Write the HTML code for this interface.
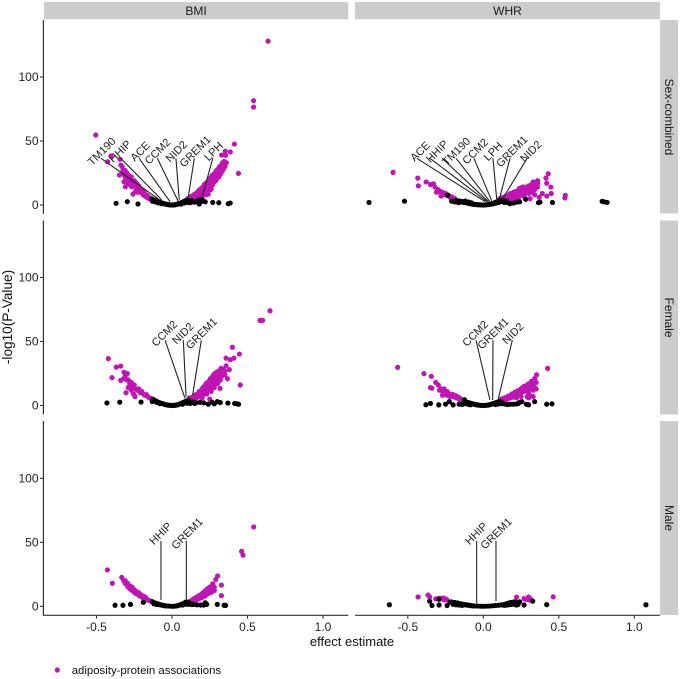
<!DOCTYPE html>
<html lang="en">
<head>
<meta charset="utf-8">
<title>Adiposity-protein associations volcano plots</title>
<style>
html,body{margin:0;padding:0;background:#fff;}
svg{display:block;font-family:"Liberation Sans",Arial,sans-serif;}
</style>
</head>
<body>
<svg id="chart" xmlns="http://www.w3.org/2000/svg" width="680" height="679" viewBox="0 0 680 679">
  <rect x="0" y="0" width="680" height="679" fill="#fff"/>
  <rect x="44" y="2" width="304.3" height="17.3" fill="#ccc"/>
  <rect x="355" y="2" width="305" height="17.3" fill="#ccc"/>
  <text x="196" y="15.2" font-size="12" text-anchor="middle" fill="#1a1a1a">BMI</text>
  <text x="507.5" y="15.2" font-size="12" text-anchor="middle" fill="#1a1a1a">WHR</text>
  <rect x="660" y="20" width="18" height="193.5" fill="#ccc"/>
  <rect x="660" y="220.5" width="18" height="194" fill="#ccc"/>
  <rect x="660" y="421" width="18" height="194" fill="#ccc"/>
  <text transform="translate(665,117) rotate(90)" font-size="12" text-anchor="middle" fill="#1a1a1a">Sex-combined</text>
  <text transform="translate(665,317.5) rotate(90)" font-size="12" text-anchor="middle" fill="#1a1a1a">Female</text>
  <text transform="translate(665,518) rotate(90)" font-size="12" text-anchor="middle" fill="#1a1a1a">Male</text>
  <text transform="translate(12,317) rotate(-90)" font-size="13.6" text-anchor="middle" fill="#111">-log10(P-Value)</text>
  <text x="352" y="646" font-size="13" text-anchor="middle" fill="#111">effect estimate</text>
  <circle cx="57.3" cy="670" r="2.6" fill="#c014b4"/>
  <text x="71.7" y="674" font-size="11.4" fill="#111">adiposity-protein associations</text>
  <g id="plot"></g>
</svg>
<script>
// Tick labels
const xTicks = [-0.5, 0.0, 0.5, 1.0];
const yTicks = [0, 50, 100];

// Magenta = significant associations, black = non-significant; [effect, -log10 P]
const bmiSexSig = [[.636,128],[.54,81.5],[.54,76.5],[-.505,54.7],[.413,47.6],[.44,24.7],[.386,41.4],[.353,42],[.329,39],[.355,38.8],
[-.426,33.8],[-.404,38.3],[-.344,35.7],[-.338,31.2],[-.33,30],[-.349,23.4],[-.318,18.2],[-.309,14.3],[-.258,8.6],[-.267,14.3],[-.325,27],[-.31,27],[-.3,25],[-.295,22],[-.285,23],[-.275,20],[-.27,22],[-.26,18],[-.25,19],[-.245,15],[-.235,17],[-.225,13],[-.22,15],[-.21,12],[-.2,12],[-.195,9.5],[-.185,10],[-.175,8],[-.165,7.5],[-.155,6.5],[-.145,5.5],[-.135,5],[-.29,17],[-.28,16],[-.24,11],[-.23,10],
[-.32,24],[-.31,22],[-.3,21],[-.29,20],[-.28,19],[-.27,17],[-.26,15],[-.25,16],[-.24,14],[-.23,13],[-.22,11],[-.21,10],[-.2,9.5],[-.19,8],[-.18,7],[-.17,6.5],[-.16,5.5],[-.15,5],
[.105,5],[.115,3.5],[.12,6],[.13,4.5],[.14,7],[.15,5],[.15,8.5],[.16,7],[.165,9.5],[.17,6],[.175,11],[.18,8],[.185,12],[.19,9],[.195,13],[.2,10.5],[.205,14],[.21,12],[.215,16],[.22,11],[.225,17],[.23,14],[.235,18],[.24,15],[.245,20],[.25,17],[.255,21],[.26,15],[.265,23],[.27,19],[.275,24],[.28,21],[.285,25],[.29,22],[.295,27],[.3,24],[.305,28],[.31,25],[.315,30],[.32,27],[.325,31],[.33,29],[.335,33],[.345,34],[.35,32],[.24,8.5],[.255,12],[.2,5.5],[.225,8],
[.13,7],[.14,5.5],[.15,6.5],[.16,9],[.165,5.5],[.17,8],[.18,10],[.185,6.5],[.19,11],[.2,8],[.2,12.5],[.21,9],[.21,14.5],[.22,14],[.23,10],[.23,16],[.24,12],[.24,17],[.25,14],[.25,19],[.26,12.5],[.26,20],[.27,16],[.27,22],[.28,18],[.28,24],[.29,19],[.29,25],[.3,21],[.3,26],[.31,22],[.31,28],[.32,24],[.32,30],[.33,26],[.33,31],[.34,28],[.34,31],[.35,30],[.36,33]];
const bmiSexNull = [[-.37,1.3],[-.296,2.6],[-.225,.8],[.18,.8],[.27,2],[.31,1.8],[.373,1],[.385,1.5],[.12,1.8],[.165,3],[.2,3.5],[.185,4],[.22,2.5],[.15,2.2],
[-.135,4.6],[-.125,4],[-.115,3.6],[-.105,4],[-.095,2.8],[-.085,2.5],[-.075,1.9],[-.065,1.6],[-.055,1.1],[-.045,.8],[-.035,.5],[-.025,.3],[-.015,.1],[0,0],[.01,.1],[.02,.2],[.03,.5],[.04,.8],[.05,1.3],[.06,1.7],[.07,2.3],[.08,2.9],[.09,3.4],[.1,3.9],[.11,3.2],[.105,2],
[-.13,3],[-.11,2.4],[-.09,1.6],[-.07,1],[.06,.8],[.08,1.5],[.1,2.2],[.13,3.5],[.14,2.6],[.17,2.6],[.19,2.4]];

const whrSexSig = [[-.598,25.5],[-.434,21],[-.43,15],[-.378,18],[-.35,16],[-.33,16.5],[-.32,14],[-.3,12],[-.31,10],[-.29,11],[-.28,9],[-.27,10],[-.26,8],[-.25,9],[-.24,7.5],[-.23,7],[-.22,6],[-.21,6.5],[-.2,5],[-.19,5.2],[-.28,7],
[.43,24.4],[.415,21],[.42,17],[.447,14],[.45,9],[.543,7.5],[.54,5.5],[.36,19],[.36,17],[.39,9],[.31,5],[.42,7],[.34,8],[.37,6],
[.1,3.5],[.11,5],[.12,3],[.13,6],[.14,4],[.15,7],[.16,5],[.17,8],[.18,6],[.19,9],[.2,7],[.21,10],[.22,8],[.23,11],[.24,9],[.25,12],[.26,10],[.27,14],[.28,11],[.29,13],[.3,15],[.31,12],[.32,16],[.33,14],[.34,17],[.35,15],[.3,9],[.27,7],[.23,5],[.19,4.2],
[.12,5],[.14,6],[.16,7],[.17,4.5],[.18,9],[.2,5],[.2,10],[.22,6],[.22,11],[.24,7],[.24,13],[.25,9],[.26,14],[.27,9],[.28,13],[.29,10],[.3,12],[.31,15],[.32,10],[.33,18],[.34,12],[.35,18],[.36,14]];
const whrSexNull = [[-.757,2],[-.522,3],[-.235,7.7],[-.21,3],[.365,1.8],[.375,2.2],[.458,2],[.787,2.9],[.8,2.5],[.82,2],[.24,2.5],[.28,4.5],[.176,1],[.2,1.5],[.22,2.2],
[-.18,3.5],[-.17,2.8],[-.16,3.2],[-.15,2.3],[-.14,2.8],[-.13,2],[-.12,2.2],[-.11,1.6],[-.1,1.4],[-.09,1.1],[-.08,.9],[-.07,.7],[-.06,.5],[-.05,.4],[-.04,.3],[-.03,.2],[-.015,.1],[0,0],[.015,.1],[.03,.3],[.04,.5],[.05,.7],[.06,.9],[.07,1.1],[.08,1.4],[.09,1.7],[.1,2],[.11,2.4],[.12,2.8],[.13,3.1],[.14,3.1],[.155,3],
[-.19,2.4],[-.165,1.8],[-.12,3],[-.1,2.4],[-.08,1.8],[.08,2.2],[.1,3],[.12,3.6],[.14,2],[.16,2]];

const bmiFemSig = [[.649,74],[.583,66.5],[.6,66.5],[.4,45.5],[.446,40.2],[.358,37],[.386,35.8],[.41,37],[.452,16],[.358,31],[.38,28],[.367,21],[.318,13.4],[.35,24],
[-.422,36.6],[-.369,30],[-.34,30.8],[-.397,21.8],[-.318,26],[-.296,25],[-.34,19.6],[-.32,21],[-.305,10],[-.245,7],[-.255,9],[-.31,23],[-.3,20],[-.29,20],[-.28,17],[-.27,18],[-.26,15],[-.25,16],[-.24,13],[-.23,12],[-.22,13],[-.21,10],[-.2,11],[-.19,9],[-.18,8],[-.17,8.5],[-.16,7],[-.15,6],[-.14,5.5],[-.13,5],[-.29,14],[-.27,12],
[.115,6],[.125,4.5],[.135,6.5],[.145,5],[.15,8],[.16,6],[.17,9],[.175,7],[.18,11],[.19,8],[.195,12],[.2,10],[.205,14],[.21,11],[.215,15],[.22,12],[.225,17],[.23,14],[.235,18],[.24,15],[.245,19],[.25,16],[.255,21],[.26,18],[.265,22],[.27,19],[.275,24],[.28,20],[.285,25],[.29,22],[.295,26],[.3,23],[.31,27],[.315,24],[.325,29],[.33,26],[.2,6],[.23,9],[.26,11],[.28,14],[.3,17],[.32,20],[.25,5],[.29,18],
[.15,5.5],[.16,8.5],[.17,6.5],[.18,8.5],[.19,10.5],[.2,8],[.2,12.5],[.21,9],[.22,14],[.22,9.5],[.23,11],[.23,16],[.24,13],[.24,17.5],[.25,14],[.26,15],[.26,20],[.27,16],[.27,21],[.28,18],[.28,23],[.29,20],[.3,21],[.3,25],[.31,19],[.31,22],[.32,24],[.32,27],[.33,23],[.34,28],[.34,25],[.35,27]];
const bmiFemNull = [[-.431,2],[-.346,2.6],[-.13,3],[.185,2.5],[.24,1],[.265,2.6],[.3,3],[.32,2.3],[.28,1.3],[.37,1.9],[.415,1.6],[.43,1.3],[.441,1],[.125,2.3],[.16,2.2],[.21,2.1],[-.205,2.7],
[-.125,4.8],[-.115,4],[-.105,3.4],[-.095,2.8],[-.085,2.4],[-.075,1.9],[-.065,1.5],[-.055,1.2],[-.045,.8],[-.035,.5],[-.025,.3],[-.015,.2],[0,0],[.01,.1],[.02,.2],[.03,.4],[.04,.7],[.05,1.2],[.06,1.6],[.07,2.2],[.08,2.7],[.09,3.2],[.1,3.6],[.11,4],[.09,2],[.115,3],
[-.12,3.4],[-.1,2.4],[-.08,1.4],[.07,1],[.09,2.6],[.1,1.8],[.12,1.6],[.14,2.8],[.15,1.6]];

const whrFemSig = [[-.567,29.8],[-.393,24.9],[-.344,22.8],[-.315,18],[-.298,16],[-.35,14],[-.34,13.5],[-.28,13],[-.27,11],[-.26,13],[-.25,10],[-.24,11],[-.23,9],[-.22,9],[-.21,8],[-.2,7],[-.19,7.5],[-.18,6],[-.17,6],[-.16,5],[-.15,5],[-.14,4.5],[-.27,8],
[-.26,10],[-.24,8],[-.22,7],[-.2,8.5],[-.18,7.5],[-.16,6.2],[-.29,12],
[.426,29],[.353,24],[.35,18],[.35,13],[.33,7],[.31,7.5],[.3,6],[.29,7],[.34,20],[.32,18],
[.11,4],[.12,5],[.13,4],[.14,6],[.15,5],[.16,7],[.17,6],[.18,8],[.19,7],[.2,9],[.21,8],[.22,10],[.23,9],[.24,12],[.25,10],[.26,14],[.27,11],[.28,15],[.29,12],[.3,17],[.31,14],[.32,19],[.33,16],[.34,21],[.34,14],[.3,10],[.25,7],[.22,6],
[.14,4.5],[.16,5],[.18,6],[.19,9],[.2,6.5],[.21,10.5],[.22,8],[.23,11.5],[.24,9],[.25,13],[.26,11],[.27,15],[.28,12],[.29,16],[.3,13],[.31,17],[.32,14],[.33,12]];
const whrFemNull = [[-.38,.6],[-.35,1.6],[-.295,.5],[-.25,1],[-.225,3],[-.2,.5],[.255,3],[.285,1],[.34,3],[.42,1],[.455,1.3],[.3,.6],[.2,1],[.22,1.2],[.16,.8],[.18,1],[-.16,1],[-.14,.8],
[-.125,4.5],[-.12,3.3],[-.11,2.7],[-.1,2.4],[-.09,2],[-.08,1.6],[-.07,1.3],[-.06,1],[-.05,.7],[-.04,.5],[-.03,.3],[-.015,.1],[0,0],[.015,.1],[.03,.3],[.04,.6],[.05,.9],[.06,1.3],[.07,1.7],[.08,2.1],[.09,2.5],[.1,2.9],[.11,3.3],[.24,2.4],[.23,1.5],
[-.13,2],[-.12,1.4],[-.1,1],[-.085,.6],[.08,.8],[.1,1.2],[.12,1.4],[.13,2],[.14,1.2]];

const bmiMaleSig = [[.541,62],[.461,43],[.47,40],[-.428,28.4],[-.395,18],[-.333,22.6],[.302,23.7],[.29,21],[.327,16.6],[.327,8.3],[.27,17.5],
[-.32,20],[-.31,18],[-.3,17],[-.29,15],[-.28,14],[-.27,13],[-.26,12],[-.25,11],[-.24,10],[-.23,10],[-.22,8.5],[-.21,8],[-.2,7.5],[-.19,6.5],[-.18,6],[-.17,5.5],[-.16,5],[-.15,4.5],[-.14,4],
[-.31,20],[-.295,18],[-.28,16],[-.265,15],[-.25,13],[-.235,11.5],[-.22,10.5],[-.205,9],[-.19,8],[-.175,7],
[.11,3.5],[.12,4],[.13,4.5],[.14,5.5],[.15,6],[.16,7],[.17,7.5],[.18,8.5],[.19,9],[.2,10],[.21,11],[.22,12],[.23,13],[.24,14],[.25,15],[.26,15],[.27,14],[.28,15],[.25,11],[.22,8],[.18,6],[.2,7],[.24,10],[.27,12],
[.15,4.5],[.17,5.5],[.19,7],[.21,8.5],[.23,9.5],[.25,13],[.26,11],[.26,13],[.28,12.5]];
const bmiMaleNull = [[-.377,.8],[-.325,.8],[-.275,1.5],[-.19,3.1],[.22,2.8],[.3,1.5],[.345,.8],[.355,.7],[.23,1.5],[.21,1],[.19,1],[.165,1.2],[.14,1.5],[.12,2],
[-.13,3.6],[-.125,3],[-.115,2.7],[-.105,2.3],[-.095,1.9],[-.085,1.5],[-.075,1.1],[-.065,.9],[-.055,.6],[-.045,.4],[-.035,.3],[-.02,.2],[0,0],[.015,.1],[.03,.3],[.04,.6],[.05,1],[.06,1.4],[.07,1.8],[.08,2.4],[.09,3.2],[.1,2.6],[.11,2.9],
[-.12,2],[-.1,1.4],[.07,1],[.09,1.6],[.11,1.6],[.13,1.4]];

const whrMaleSig = [[-.432,7.3],[-.366,8.8],[-.355,7.3],[-.315,5.8],[-.3,6],[-.285,6.3],[-.265,6.5],[-.25,5.8],[-.24,5],[-.26,5],[.22,7.2],[.27,6],[.29,6],[.3,7.3],[.31,6],[.32,4.5],[.28,5.5],[.463,7.4],[.3,5]];
const whrMaleNull = [[-.622,1.2],[-.355,4],[-.34,.6],[-.293,1],[-.293,5.5],[-.24,.6],[.27,1],[.42,1.3],[1.077,1.2],[.327,4],[.24,3.5],[.23,1.5],[.22,1],
[-.22,3.2],[-.21,3.4],[-.2,2.7],[-.19,3],[-.18,2.4],[-.17,2.6],[-.16,2],[-.15,2],[-.14,1.6],[-.13,1.5],[-.12,1.2],[-.11,1],[-.1,.9],[-.09,.7],[-.08,.5],[-.07,.4],[-.06,.3],[-.04,.2],[-.02,.1],[0,0],[.02,.1],[.04,.2],[.06,.4],[.08,.6],[.1,.8],[.12,1.1],[.14,1.5],[.15,1.8],[.16,2.2],[.17,2.6],[.18,2.9],[.19,3.1],[.2,3.3],[.21,3.5],[.22,3.2],
[-.2,1.6],[-.18,1.2],[-.16,1],[-.14,.7],[.14,.7],[.16,1],[.18,1.4],[.2,1.6]];

// Gene annotations: [name, text effect, connector-top effect, tip effect, tip -log10 P]
const bmiSexGenes = [["TM190",-.467,-.47,-.10,5.5],["HHIP",-.345,-.34,-.068,4],["ACE",-.212,-.218,-.013,2.6],["CCM2",-.097,-.097,.042,2.6],["NID2",.028,.026,.048,4],["GREM1",.152,.148,.108,6.5],["LPH",.274,.27,.197,5.2]];
const whrSexGenes = [["ACE",-.42,-.44,.012,2.6],["",-.353,-.353,.025,2.6],["HHIP",-.307,-.273,.034,2.6],["TM190",-.18,-.18,.044,2.6],["CCM2",-.055,-.062,.058,2.6],["LPH",.064,.064,.09,3],["GREM1",.188,.177,.104,3.5],["NID2",.314,.29,.124,4]];
const bmiFemGenes = [["CCM2",-.051,-.046,.086,5.6],["NID2",.071,.075,.093,6.9],["GREM1",.194,.194,.137,8.2]];
const whrFemGenes = [["CCM2",-.055,-.048,.044,4.3],["GREM1",.064,.064,.062,4.3],["NID2",.195,.192,.1,5.6]];
const bmiMaleGenes = [["HHIP",-.077,-.073,-.073,5],["GREM1",.099,.095,.095,5]];
const whrMaleGenes = [["HHIP",-.048,-.044,-.044,2.3],["GREM1",.084,.084,.084,4]];

// Facet rows and columns
const rowNames = ["sex-combined","female","male"];
const colNames = ["bmi","whr"];
const sigSets = [[bmiSexSig,whrSexSig],[bmiFemSig,whrFemSig],[bmiMaleSig,whrMaleSig]];
const nullSets = [[bmiSexNull,whrSexNull],[bmiFemNull,whrFemNull],[bmiMaleNull,whrMaleNull]];
const geneSets = [[bmiSexGenes,whrSexGenes],[bmiFemGenes,whrFemGenes],[bmiMaleGenes,whrMaleGenes]];
const geneTextLevel = [42, 56.4, 57];
const geneLineLevel = [36.5, 51, 51];

// Axis layout
const NS = "http://www.w3.org/2000/svg";
const plot = document.getElementById("plot");
const colZero = [172, 483.3], colLeft = [44, 355], colRight = [348.3, 660];
const rowZero = [205, 405.5, 606.3], rowTop = [20, 220.5, 421], rowBottom = [214, 414.3, 615.3];
const xScale = (c, v) => colZero[c] + 151 * v;
const yScale = (r, v) => rowZero[r] - 1.28 * v;

function make(tag, attrs, parent) {
  const el = document.createElementNS(NS, tag);
  for (const k in attrs) el.setAttribute(k, attrs[k]);
  (parent || plot).appendChild(el);
  return el;
}

rowNames.forEach((rowName, r) => {
  colNames.forEach((colName, c) => {
    const g = make("g", {});
    
    
    sigSets[r][c].forEach(p => {
      const dot = make("circle", {cx: xScale(c, p[0]), cy: yScale(r, p[1]), r: 2.6, fill: "#c014b4"}, g);
      
      
    });
    nullSets[r][c].forEach(p => {
      const dot = make("circle", {cx: xScale(c, p[0]), cy: yScale(r, p[1]), r: 2.6, fill: "#000"}, g);
      
      
    });
    geneSets[r][c].forEach(a => {
      const line = make("line", {x1: xScale(c, a[2]), y1: yScale(r, geneLineLevel[r]), x2: xScale(c, a[3]), y2: yScale(r, a[4]), stroke: "#222", "stroke-width": 1.1}, g);
      
      
      if (a[0]) {
        const tx = xScale(c, a[1]), ty = yScale(r, geneTextLevel[r]);
        const label = make("text", {x: 0, y: 3.9, "font-size": 11, "text-anchor": "middle", fill: "#222", transform: "translate(" + tx + "," + ty + ") rotate(-45)"}, g);
        
        
        label.textContent = a[0];
      }
    });
    if (r === 2) {
      const axis = make("line", {x1: colLeft[c] - (c === 0 ? 1 : 0), x2: colRight[c], y1: rowBottom[r], y2: rowBottom[r], stroke: "#333", "stroke-width": 1.2}, g);
      
      
      xTicks.forEach(t => {
        const tick = make("line", {x1: xScale(c, t), x2: xScale(c, t), y1: rowBottom[r], y2: rowBottom[r] + 3.4, stroke: "#333", "stroke-width": 1.1}, g);
        
        
        const lab = make("text", {x: xScale(c, t), y: 631, "font-size": 12, "text-anchor": "middle", fill: "#222"}, g);
        
        
        lab.textContent = t.toFixed(1);
      });
    }
  });
  const yAxis = make("line", {x1: 43.4, x2: 43.4, y1: rowTop[r], y2: rowBottom[r], stroke: "#333", "stroke-width": 1.2});
  
  
  yTicks.forEach(t => {
    const tick = make("line", {x1: 40, x2: 43.4, y1: yScale(r, t), y2: yScale(r, t), stroke: "#333", "stroke-width": 1.1});
    
    
    const lab = make("text", {x: 38.5, y: yScale(r, t) + 4.2, "font-size": 12, "text-anchor": "end", fill: "#222"});
    
    
    lab.textContent = String(t);
  });
});
</script>
</body>
</html>
